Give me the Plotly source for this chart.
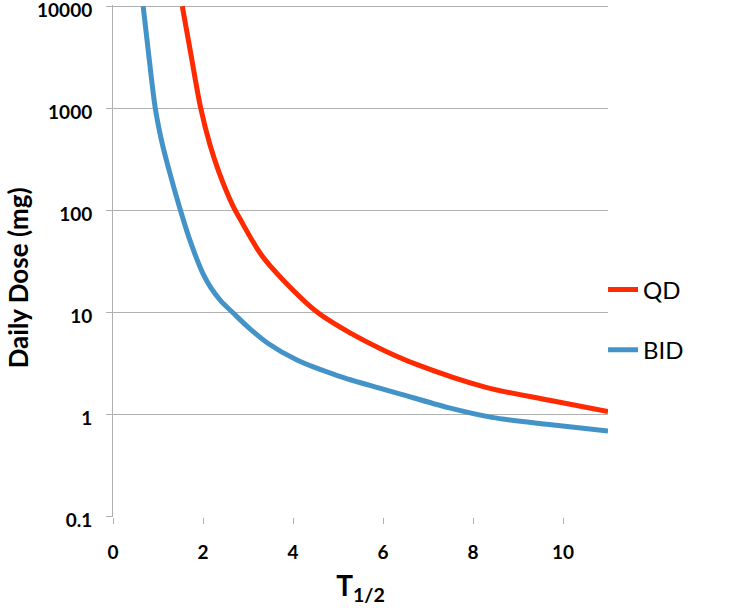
import plotly.graph_objects as go

# Half-life (T1/2) values and daily dose readings
qd_t = [1.54, 1.73, 1.95, 2.15, 2.35, 2.66, 2.84, 3.29, 3.8, 4.55, 5.3, 6.0, 6.7, 8.27, 9.7, 11.0]
qd_dose = [10000, 3400, 1000, 447, 240, 112, 80, 37, 20.4, 10, 6.2, 4.3, 3.16, 1.86, 1.38, 1.07]

bid_t = [0.67, 0.80, 0.94, 1.08, 1.23, 1.5, 1.73, 2.0, 2.17, 2.4, 2.66, 3.0, 3.44, 4.1, 5.0, 5.96, 6.41, 7.45, 8.42, 9.69, 11.0]
bid_dose = [10000, 3160, 1000, 480, 263, 100, 48, 24, 17.6, 12.9, 10, 7.2, 5.0, 3.4, 2.4, 1.8, 1.58, 1.17, 0.94, 0.80, 0.69]

x_ticks = [0, 2, 4, 6, 8, 10]
y_ticks = [0.1, 1, 10, 100, 1000, 10000]
y_tick_labels = ["0.1", "1", "10", "100", "1000", "10000"]

RED = "#ff2a00"
BLUE = "#4393c8"
GRID = "#b0b0b0"
FONT = "Lato"

fig = go.Figure()
fig.add_trace(go.Scatter(x=qd_t, y=qd_dose, mode="lines", name="QD",
                         line=dict(color=RED, width=5, shape="spline", smoothing=0.9),
                         legendgroup="a"))
fig.add_trace(go.Scatter(x=bid_t, y=bid_dose, mode="lines", name="BID",
                         line=dict(color=BLUE, width=5, shape="spline", smoothing=0.9),
                         legendgroup="b"))

fig.update_layout(
    width=744, height=609,
    margin=dict(l=113, r=136, t=5, b=92, autoexpand=False),
    paper_bgcolor="white", plot_bgcolor="white",
    font=dict(family=FONT, color="black"),
    showlegend=True,
    legend=dict(x=0.99, y=0.385, xanchor="left", yanchor="middle",
                font=dict(size=24, family=FONT, color="black"),
                tracegroupgap=26, itemwidth=30, bgcolor="rgba(0,0,0,0)"),
    xaxis=dict(range=[0, 11], tickvals=x_ticks, showgrid=False, zeroline=False,
               showline=False, ticks="outside", ticklen=6, tickcolor=GRID,
               tickfont=dict(size=19, family=FONT, color="black", weight="bold"),
               ticklabelstandoff=12, automargin=False,
               title=dict(text="T<sub>1/2</sub>", font=dict(size=28, family=FONT, weight="bold"),
                          standoff=14)),
    yaxis=dict(type="log", range=[-1.003, 4.012], tickvals=y_ticks, ticktext=y_tick_labels,
               showgrid=True, gridcolor=GRID, gridwidth=1, zeroline=False,
               showline=True, linecolor=GRID, linewidth=1,
               ticks="outside", ticklen=6, tickcolor=GRID,
               tickfont=dict(size=19, family=FONT, color="black", weight="bold"),
               ticklabelstandoff=10, ticklabelshift=4,
               ticklabeloverflow="allow", automargin=False),
    annotations=[dict(text="<b>Daily Dose (mg)</b>", textangle=-90,
                      xref="paper", yref="paper", x=-0.192, y=0.468,
                      xanchor="center", yanchor="middle", showarrow=False,
                      font=dict(size=26, family=FONT, color="black"))],
)

fig.write_html("out.html", config={"displayModeBar": False},
               post_script="document.body.style.margin='0';")
